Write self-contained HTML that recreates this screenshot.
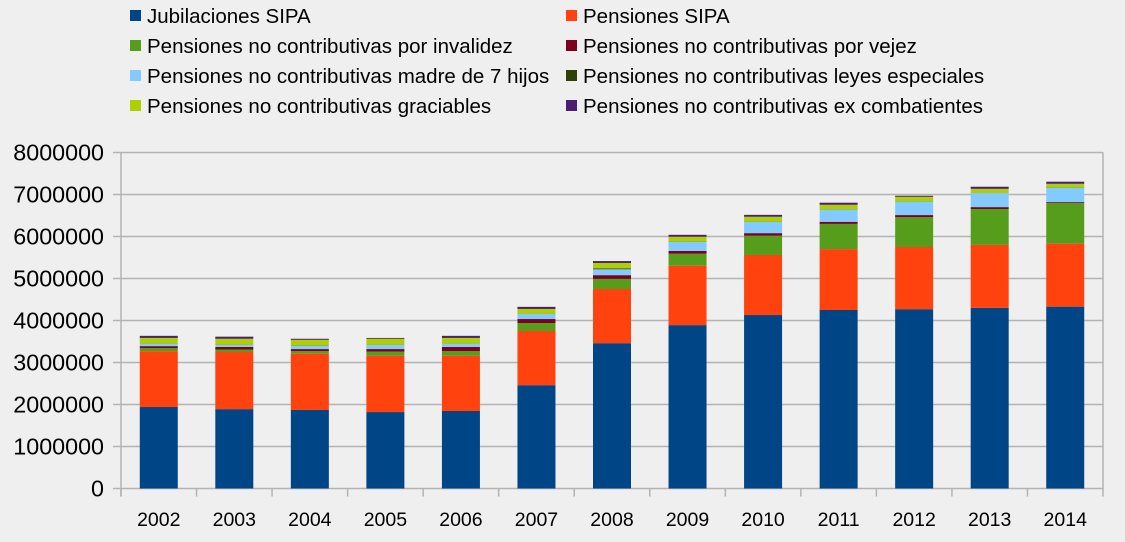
<!DOCTYPE html>
<html><head><meta charset="utf-8"><style>
body{margin:0;background:#efefef;}
svg{display:block;font-family:"Liberation Sans",sans-serif;}
</style></head><body>
<svg id="chart" width="1125" height="542"></svg>
<script>
const years=["2002","2003","2004","2005","2006","2007","2008","2009","2010","2011","2012","2013","2014"];
const seriesNames=["Jubilaciones SIPA","Pensiones SIPA","Pensiones no contributivas por invalidez","Pensiones no contributivas por vejez","Pensiones no contributivas madre de 7 hijos","Pensiones no contributivas leyes especiales","Pensiones no contributivas graciables","Pensiones no contributivas ex combatientes"];
const jubilaciones=[1940000,1890000,1870000,1820000,1845000,2460000,3460000,3890000,4130000,4250000,4270000,4300000,4330000];
const pensiones=[1330000,1360000,1340000,1340000,1315000,1290000,1290000,1415000,1430000,1450000,1480000,1500000,1500000];
const invalidez=[75000,60000,60000,100000,110000,190000,240000,285000,460000,600000,710000,855000,970000];
const vejez=[45000,60000,50000,60000,100000,95000,90000,65000,60000,50000,50000,45000,20000];
const madre7=[60000,50000,80000,100000,80000,120000,140000,220000,270000,290000,320000,335000,340000];
const especiales=[5000,5000,5000,5000,5000,5000,20000,5000,5000,5000,5000,5000,5000];
const graciables=[130000,140000,135000,140000,130000,115000,130000,115000,115000,110000,110000,95000,90000];
const excombatientes=[50000,50000,25000,20000,50000,50000,45000,45000,45000,50000,25000,50000,50000];
const yTicks=[0,1000000,2000000,3000000,4000000,5000000,6000000,7000000,8000000];
const series=[jubilaciones,pensiones,invalidez,vejez,madre7,especiales,graciables,excombatientes];
const colors=["#004586","#ff420e","#579d1c","#7e0021","#83caff","#314004","#aecf00","#4b1f6f"];
const NS="http://www.w3.org/2000/svg";
const svg=document.getElementById("chart");
const x0=121,x1=1103,y0=488.5,yTop=152.5,yMax=8000000;
const bw=(x1-x0)/years.length;
function yScale(v){return y0-(v/yMax)*(y0-yTop);}
function xBand(i){return x0+i*bw;}
function mk(t,a){const e=document.createElementNS(NS,t);for(const k in a)e.setAttribute(k,a[k]);svg.appendChild(e);return e;}
yTicks.forEach((t,i)=>{
 const y=yScale(t);
 const g=mk("line",{x1:x0-8,x2:x1,y1:y,y2:y,stroke:"#b3b3b3","stroke-width":1.5});
 
 
 const l=mk("text",{x:104,y:y+8,"text-anchor":"end","font-size":23.3,fill:"#000"});
 l.textContent=String(t);
 
 
});
const ax=mk("line",{x1:x0,x2:x0,y1:yTop,y2:y0+8,stroke:"#b3b3b3","stroke-width":1.5});


const ax2=mk("line",{x1:x1,x2:x1,y1:yTop,y2:y0,stroke:"#b3b3b3","stroke-width":1.5});


for(let i=0;i<=years.length;i++){
 const t=mk("line",{x1:xBand(i),x2:xBand(i),y1:y0,y2:y0+8,stroke:"#b3b3b3","stroke-width":1.5});
 
 
}
years.forEach((yr,i)=>{
 let cum=0;
 const cx=xBand(i)+bw/2;
 series.forEach((s,k)=>{
  const yb=yScale(cum);cum+=s[i];const yt=yScale(cum);
  const r=mk("rect",{x:cx-19,y:yt,width:38,height:Math.max(0,yb-yt),fill:colors[k]});
  
  
 });
 const l=mk("text",{x:cx,y:526,"text-anchor":"middle","font-size":19.5,fill:"#000"});
 l.textContent=yr;
 
 
});
seriesNames.forEach((n,k)=>{
 const col=k%2,row=Math.floor(k/2);
 const lx=col===0?130:566,ly=16+row*30;
 const r=mk("rect",{x:lx,y:ly-6,width:11,height:11,fill:colors[k]});
 
 
 const t=mk("text",{x:lx+17,y:ly+7,"font-size":20.5,fill:"#000"});
 t.textContent=n;
 
 
});
</script>
</body></html>
